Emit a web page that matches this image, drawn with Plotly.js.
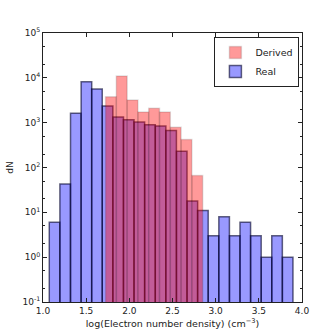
<!DOCTYPE html>
<html>
<head>
<meta charset="utf-8">
<script src="https://cdn.plot.ly/plotly-3.0.1.min.js"></script>
<style>
  body { margin: 0; background: #fff; }
  #plot { width: 336px; height: 336px; }
</style>
</head>
<body>
<div id="plot"></div>
<script>
// bin centres and counts
let realX = [1.134, 1.257, 1.380, 1.503, 1.625, 1.748, 1.871, 1.993, 2.116, 2.239, 2.362, 2.484,
             2.607, 2.730, 2.852, 2.975, 3.098, 3.221, 3.343, 3.466, 3.589, 3.711, 3.834];
let realN = [6, 43, 1630, 8200, 5600, 2350, 1330, 1160, 1030, 900, 840, 670,
             230, 18, 11, 3, 8, 3, 6, 3, 1, 3, 1];
let realW = 0.1227;

let derivedX = [1.787, 1.912, 2.037, 2.162, 2.287, 2.412, 2.537, 2.662, 2.787];
let derivedN = [3800, 11000, 3200, 1740, 2090, 1720, 790, 420, 66];
let derivedW = 0.1251;

let yTickVals = [0.1, 1, 10, 100, 1000, 10000, 100000];
let yTickText = ["10<sup>-1</sup>", "10<sup>0</sup>", "10<sup>1</sup>", "10<sup>2</sup>",
                 "10<sup>3</sup>", "10<sup>4</sup>", "10<sup>5</sup>"];
let xTickVals = [1.0, 1.5, 2.0, 2.5, 3.0, 3.5, 4.0];
let xTickText = ["1.0", "1.5", "2.0", "2.5", "3.0", "3.5", "4.0"];

const real = {
  x: realX,
  y: realN,
  width: realX.map(() => realW),
  type: 'bar',
  name: 'Real',
  marker: { color: 'rgba(0,0,255,0.4)', line: { color: 'rgba(0,0,40,0.6)', width: 1.5 } },
};

const derived = {
  x: derivedX,
  y: derivedN,
  width: derivedX.map(() => derivedW),
  type: 'bar',
  name: 'Derived',
  marker: { color: 'rgba(255,0,0,0.4)', line: { color: 'rgba(0,0,0,0.12)', width: 1.5 } },
};

const font = { family: 'DejaVu Sans', size: 9, color: '#222' };

const layout = {
  width: 336,
  height: 336,
  margin: { l: 43, r: 34, t: 33, b: 34 },
  paper_bgcolor: '#fff',
  plot_bgcolor: '#fff',
  barmode: 'overlay',
  bargap: 0,
  font: font,
  showlegend: true,
  legend: {
    x: 0.99, y: 0.985, xanchor: 'right', yanchor: 'top',
    traceorder: 'reversed',
    tracegroupgap: 0,
    itemwidth: 30,
    bgcolor: '#fff', bordercolor: '#222', borderwidth: 1,
    font: { family: 'DejaVu Sans', size: 9.5, color: '#222' },
  },
  xaxis: {
    range: [1, 4],
    tickvals: xTickVals, ticktext: xTickText,
    ticks: 'inside', ticklen: 4, tickcolor: '#222',
    showline: true, linecolor: '#222', linewidth: 1, mirror: 'ticks',
    showgrid: false, zeroline: false,
    title: { text: 'log(Electron number density) (cm<sup>−3</sup>)', font: { size: 9.5 }, standoff: 5 },
  },
  yaxis: {
    type: 'log',
    range: [-1, 5],
    tickvals: yTickVals, ticktext: yTickText,
    ticks: 'inside', ticklen: 4, tickcolor: '#222',
    minor: { ticks: 'inside', ticklen: 2, tickcolor: '#222', showgrid: false },
    showline: true, linecolor: '#222', linewidth: 1, mirror: 'ticks',
    showgrid: false, zeroline: false,
    title: { text: 'dN', font: { size: 9 }, standoff: 7 },
  },
};

Plotly.newPlot('plot', [real, derived], layout, { staticPlot: true });
</script>
</body>
</html>
